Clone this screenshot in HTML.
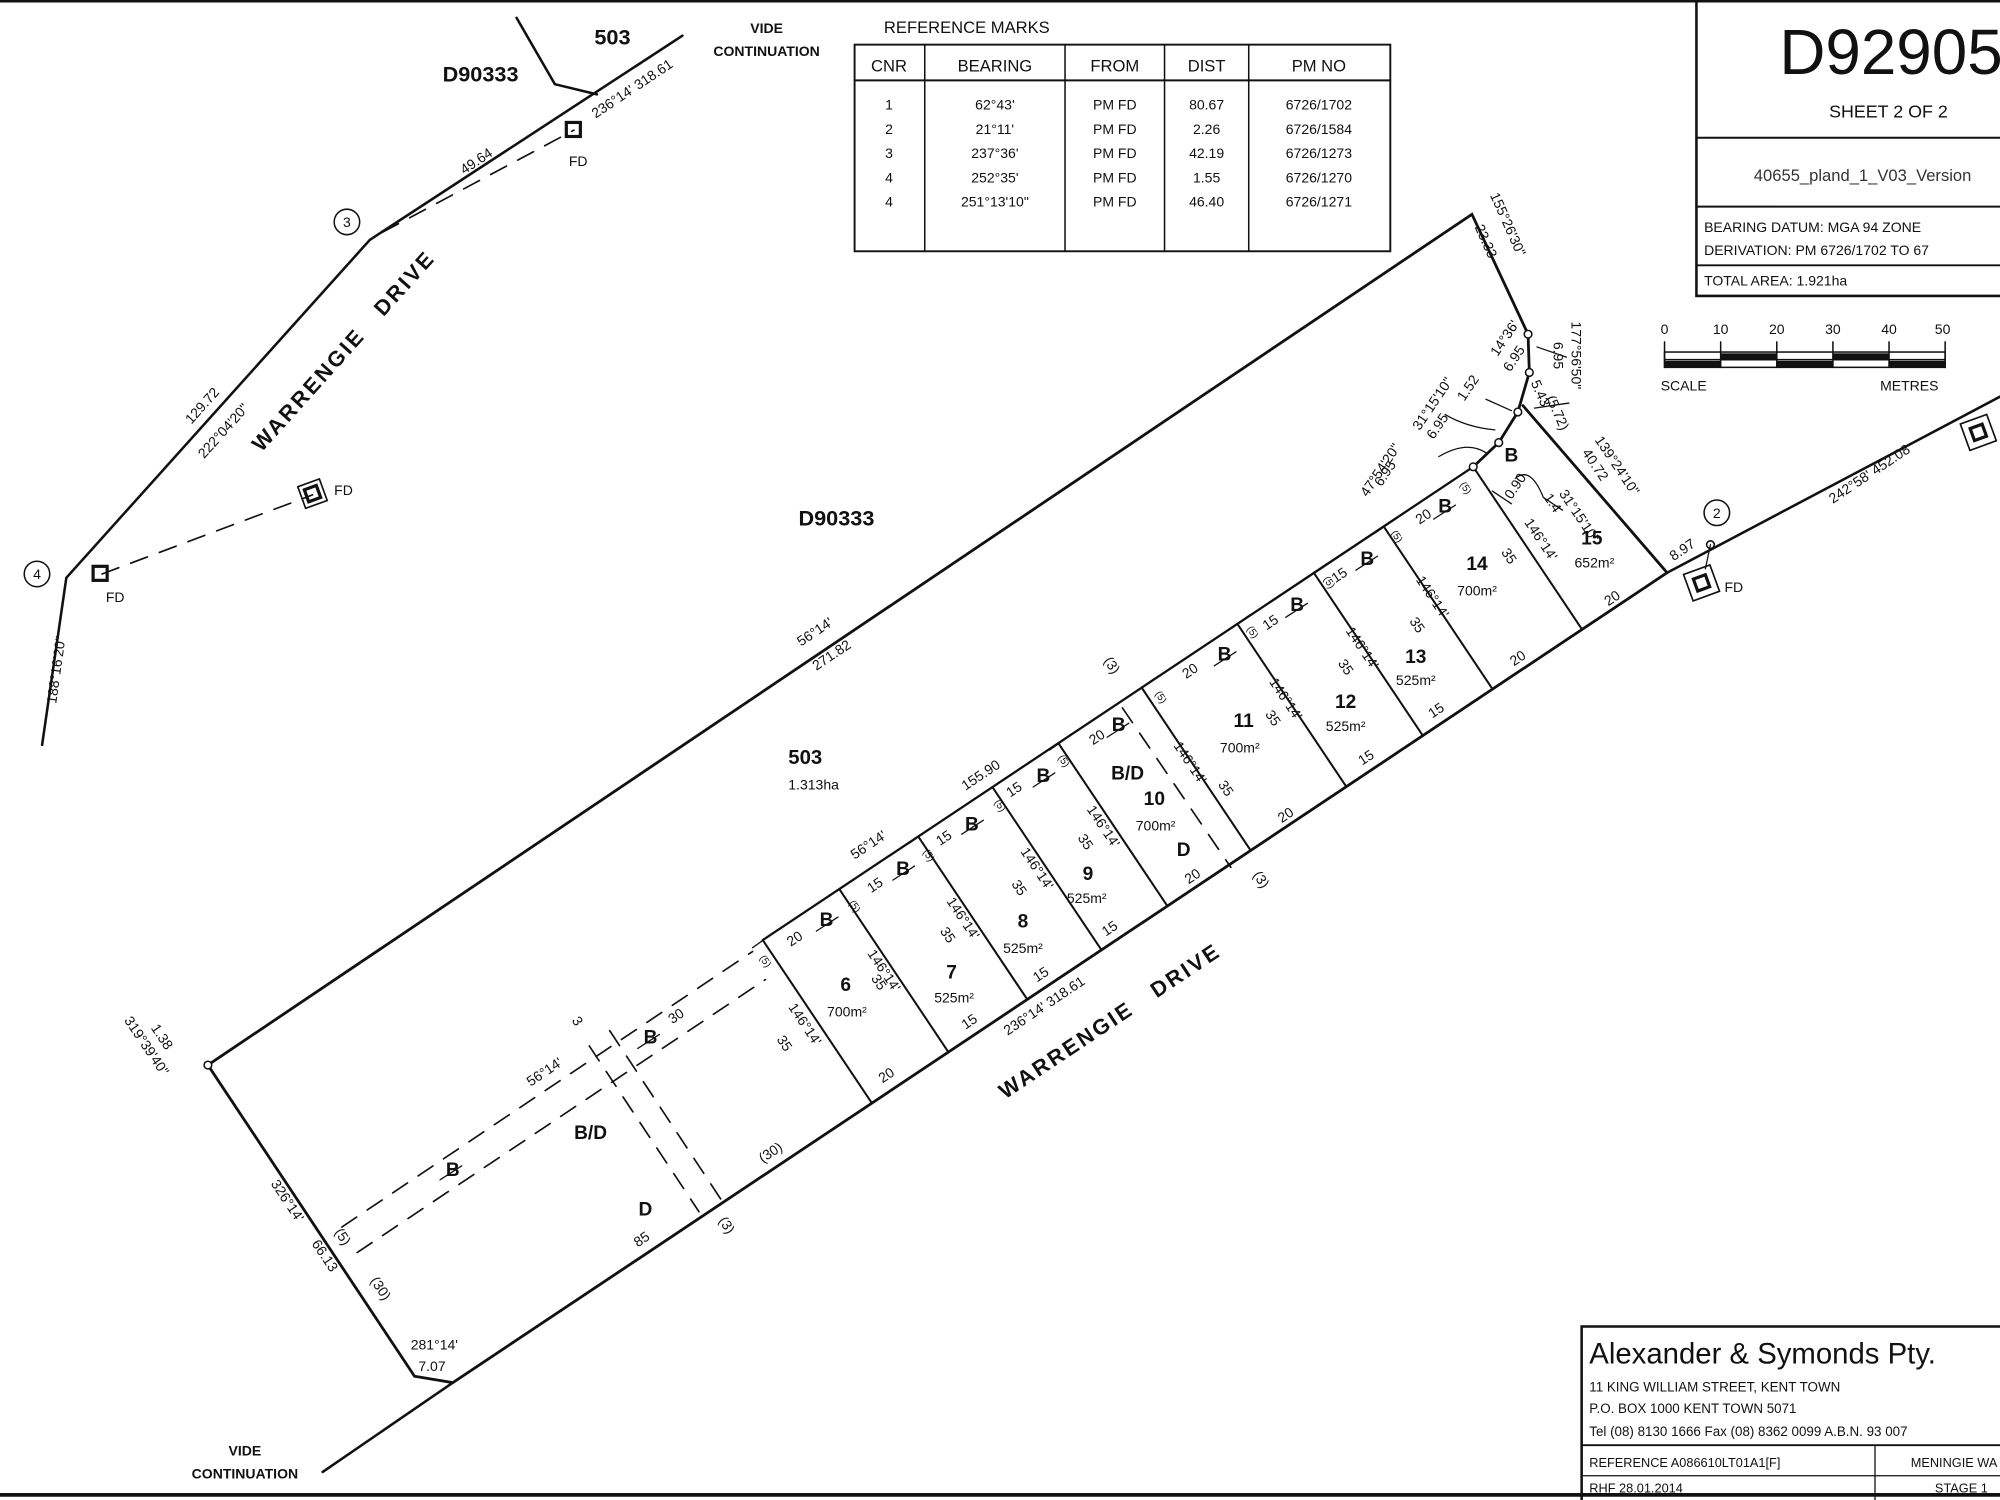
<!DOCTYPE html>
<html><head><meta charset="utf-8">
<style>
html,body{margin:0;padding:0;background:#fff;}
svg{display:block;}
text{font-family:"Liberation Sans",sans-serif;fill:#111;}
.s{font-size:11px;}
.m{font-size:13px;}
.b{font-weight:bold;}
</style></head>
<body>
<svg width="2000" height="1500" viewBox="0 0 1568 1176" preserveAspectRatio="none" xmlns="http://www.w3.org/2000/svg">
<rect width="1568" height="1176" fill="#fff"/>
<g stroke="#111" fill="none" stroke-linecap="round">
<line x1="0" y1="1" x2="1568" y2="1" stroke-width="2"/>
<line x1="0" y1="1172" x2="1568" y2="1172" stroke-width="3"/>
<polyline points="163,835 1154,168 1198,262 1199,292 1190,323 1175,347 1155,366" stroke-width="2.2"/>
<polyline points="163,835 325,1079 355,1084 1307,449 1194,318" stroke-width="2.2"/>
<line x1="1307" y1="449" x2="1568" y2="311" stroke-width="2"/>
<line x1="355" y1="1084" x2="253" y2="1154" stroke-width="2"/>
<polyline points="33,584 52,453 290,188 535,28" stroke-width="2"/>
<polyline points="405,14 435,66 468,74" stroke-width="2"/>
<line x1="598" y1="737" x2="1155" y2="366" stroke-width="1.8"/>
<line x1="598" y1="737" x2="683" y2="864" stroke-width="1.6"/>
<line x1="658" y1="697" x2="743" y2="824" stroke-width="1.6"/>
<line x1="720" y1="656" x2="805" y2="783" stroke-width="1.6"/>
<line x1="778" y1="617" x2="863" y2="744" stroke-width="1.6"/>
<line x1="830" y1="583" x2="915" y2="710" stroke-width="1.6"/>
<line x1="895" y1="539" x2="980" y2="666" stroke-width="1.6"/>
<line x1="970" y1="489" x2="1055" y2="616" stroke-width="1.6"/>
<line x1="1030" y1="449" x2="1115" y2="576" stroke-width="1.6"/>
<line x1="1085" y1="413" x2="1170" y2="540" stroke-width="1.6"/>
<line x1="1155" y1="366" x2="1240" y2="493" stroke-width="1.6"/>
<g stroke-width="1">
<line x1="607" y1="731" x2="590" y2="743"/><line x1="668" y1="690" x2="651" y2="702"/>
<line x1="730" y1="649" x2="713" y2="661"/><line x1="788" y1="610" x2="771" y2="622"/>
<line x1="840" y1="576" x2="823" y2="588"/><line x1="905" y1="532" x2="888" y2="544"/>
<line x1="980" y1="482" x2="963" y2="494"/><line x1="1040" y1="442" x2="1023" y2="454"/>
<line x1="1095" y1="406" x2="1078" y2="418"/>
</g>
<g stroke-width="1.3" stroke-dasharray="14,10">
<line x1="268" y1="962" x2="590" y2="746"/>
<line x1="280" y1="982" x2="600" y2="768"/>
<line x1="462" y1="820" x2="548" y2="950"/>
<line x1="478" y1="808" x2="565" y2="940"/>
<line x1="880" y1="555" x2="965" y2="680"/>
<line x1="80" y1="450" x2="245" y2="388"/>
<line x1="300" y1="182" x2="450" y2="102"/>
</g>
<g stroke-width="1">
<line x1="345" y1="925" x2="362" y2="914"/><line x1="500" y1="822" x2="517" y2="811"/>
<line x1="640" y1="730" x2="657" y2="719"/><line x1="700" y1="690" x2="717" y2="679"/>
<line x1="754" y1="654" x2="771" y2="643"/><line x1="810" y1="617" x2="827" y2="606"/>
<line x1="868" y1="578" x2="885" y2="567"/><line x1="952" y1="522" x2="969" y2="511"/>
<line x1="1008" y1="484" x2="1025" y2="473"/><line x1="1063" y1="447" x2="1080" y2="436"/>
<line x1="1124" y1="407" x2="1141" y2="396"/>
</g>
<g fill="#fff" stroke-width="1.2">
<circle cx="163" cy="835" r="3"/><circle cx="1198" cy="262" r="3"/><circle cx="1199" cy="292" r="3"/>
<circle cx="1190" cy="323" r="3"/><circle cx="1175" cy="347" r="3"/><circle cx="1155" cy="366" r="3"/>
<circle cx="1341" cy="427" r="3"/>
</g>
<g stroke-width="1.2"><circle cx="272" cy="174" r="10"/><circle cx="29" cy="450" r="10"/><circle cx="1346" cy="402" r="10"/></g>
<g stroke-width="2.5">
<rect x="444" y="96" width="11" height="11"/>
<rect x="73" y="444" width="11" height="11"/>
<rect x="236" y="378" width="18" height="18" transform="rotate(-20 245 387)" stroke-width="1.3"/>
<rect x="240" y="382" width="10" height="10" transform="rotate(-20 245 387)"/>
<rect x="1323" y="446" width="22" height="22" transform="rotate(-20 1334 457)" stroke-width="1.3"/>
<rect x="1329" y="452" width="10" height="10" transform="rotate(-20 1334 457)"/>
<rect x="1540" y="328" width="22" height="22" transform="rotate(-20 1551 339)" stroke-width="1.3"/>
<rect x="1546" y="334" width="10" height="10" transform="rotate(-20 1551 339)"/>
<line x1="1341" y1="427" x2="1337" y2="446" stroke-width="1"/>
</g>
<g stroke-width="1">
<path d="M1133,325 Q1150,335 1172,337"/><path d="M1128,358 Q1150,345 1165,355"/>
<path d="M1165,313 L1185,322"/><path d="M1205,272 L1228,280"/><path d="M1230,316 L1203,320"/>
<path d="M1188,375 Q1200,365 1210,390 L1225,400"/><path d="M1170,385 L1185,395"/>
</g>
<rect x="670" y="35" width="420" height="162" stroke-width="1.5"/>
<line x1="670" y1="63" x2="1090" y2="63" stroke-width="1.5"/>
<line x1="725" y1="35" x2="725" y2="197" stroke-width="1.2"/>
<line x1="835" y1="35" x2="835" y2="197" stroke-width="1.2"/>
<line x1="913" y1="35" x2="913" y2="197" stroke-width="1.2"/>
<line x1="979" y1="35" x2="979" y2="197" stroke-width="1.2"/>
<polyline points="1330,0 1330,232 1568,232" stroke-width="2"/>
<line x1="1330" y1="108" x2="1568" y2="108" stroke-width="1.5"/>
<line x1="1330" y1="162" x2="1568" y2="162" stroke-width="1.5"/>
<line x1="1330" y1="208" x2="1568" y2="208" stroke-width="1.5"/>
<g stroke-width="1.2">
<rect x="1305" y="276" width="220" height="12"/>
<line x1="1305" y1="282" x2="1525" y2="282"/>
<line x1="1305" y1="268" x2="1305" y2="288"/><line x1="1349" y1="268" x2="1349" y2="288"/>
<line x1="1393" y1="268" x2="1393" y2="288"/><line x1="1437" y1="268" x2="1437" y2="288"/>
<line x1="1481" y1="268" x2="1481" y2="288"/><line x1="1525" y1="268" x2="1525" y2="288"/>
</g>
<g fill="#111" stroke="none">
<rect x="1305" y="283" width="44" height="5"/><rect x="1349" y="277" width="44" height="5"/>
<rect x="1393" y="283" width="44" height="5"/><rect x="1437" y="277" width="44" height="5"/>
<rect x="1481" y="283" width="44" height="5"/>
</g>
<polyline points="1240,1176 1240,1040 1568,1040" stroke-width="2"/>
<line x1="1240" y1="1133" x2="1568" y2="1133" stroke-width="1.5"/>
<line x1="1240" y1="1157" x2="1568" y2="1157" stroke-width="1"/>
<line x1="1470" y1="1133" x2="1470" y2="1176" stroke-width="1"/>
</g>

<text x="693" y="26" class="m">REFERENCE MARKS</text>
<g class="m" text-anchor="middle">
<text x="697" y="56">CNR</text><text x="780" y="56">BEARING</text><text x="874" y="56">FROM</text><text x="946" y="56">DIST</text><text x="1034" y="56">PM NO</text>
</g>
<g class="s" text-anchor="middle">
<text x="697" y="86">1</text><text x="780" y="86">62°43'</text><text x="874" y="86">PM FD</text><text x="946" y="86">80.67</text><text x="1034" y="86">6726/1702</text>
<text x="697" y="105">2</text><text x="780" y="105">21°11'</text><text x="874" y="105">PM FD</text><text x="946" y="105">2.26</text><text x="1034" y="105">6726/1584</text>
<text x="697" y="124">3</text><text x="780" y="124">237°36'</text><text x="874" y="124">PM FD</text><text x="946" y="124">42.19</text><text x="1034" y="124">6726/1273</text>
<text x="697" y="143">4</text><text x="780" y="143">252°35'</text><text x="874" y="143">PM FD</text><text x="946" y="143">1.55</text><text x="1034" y="143">6726/1270</text>
<text x="697" y="162">4</text><text x="780" y="162">251°13'10"</text><text x="874" y="162">PM FD</text><text x="946" y="162">46.40</text><text x="1034" y="162">6726/1271</text>
</g>
<text x="1395" y="58" style="font-size:50px">D92905</text>
<text x="1434" y="92" style="font-size:14px">SHEET 2 OF 2</text>
<text x="1375" y="142" style="font-size:13px;fill:#333">40655_pland_1_V03_Version</text>
<text x="1336" y="182" class="s">BEARING DATUM:  MGA 94    ZONE</text>
<text x="1336" y="200" class="s">DERIVATION:   PM 6726/1702 TO 67</text>
<text x="1336" y="224" class="s">TOTAL AREA:      1.921ha</text>
<g class="s" text-anchor="middle"><text x="1305" y="262">0</text><text x="1349" y="262">10</text><text x="1393" y="262">20</text><text x="1437" y="262">30</text><text x="1481" y="262">40</text><text x="1523" y="262">50</text></g>
<text x="1302" y="306" class="s">SCALE</text><text x="1474" y="306" class="s">METRES</text>

<text x="1246" y="1069" style="font-size:23px">Alexander &amp; Symonds Pty.</text>
<text x="1246" y="1091" style="font-size:10.5px">11 KING WILLIAM STREET, KENT TOWN</text>
<text x="1246" y="1108" style="font-size:10.5px">P.O. BOX 1000 KENT TOWN 5071</text>
<text x="1246" y="1126" style="font-size:10.5px">Tel (08) 8130 1666   Fax (08) 8362 0099   A.B.N. 93 007</text>
<text x="1246" y="1150" style="font-size:10px">REFERENCE   A086610LT01A1[F]</text>
<text x="1498" y="1150" style="font-size:10px">MENINGIE WA</text>
<text x="1246" y="1170" style="font-size:10px">RHF 28.01.2014</text>
<text x="1517" y="1170" style="font-size:10px">STAGE 1</text>

<text x="466" y="35" class="b" style="font-size:17px">503</text>
<text x="347" y="64" class="b" style="font-size:17px">D90333</text>
<text x="601" y="26" class="s b" text-anchor="middle">VIDE</text>
<text x="601" y="44" class="s b" text-anchor="middle">CONTINUATION</text>
<text x="192" y="1141" class="s b" text-anchor="middle">VIDE</text>
<text x="192" y="1159" class="s b" text-anchor="middle">CONTINUATION</text>
<text x="446" y="130" class="s">FD</text><text x="262" y="388" class="s">FD</text><text x="83" y="472" class="s">FD</text><text x="1352" y="464" class="s">FD</text>
<text x="272" y="178" class="s" text-anchor="middle">3</text><text x="29" y="454" class="s" text-anchor="middle">4</text><text x="1346" y="406" class="s" text-anchor="middle">2</text>

<text x="626" y="412" class="b" style="font-size:17px">D90333</text>
<text x="618" y="599" class="b" style="font-size:16px">503</text>
<text x="618" y="619" class="s">1.313ha</text>

<g class="b" style="font-size:17px;letter-spacing:2px">
<text transform="translate(205,355) rotate(-48)">WARRENGIE&#160;&#160;&#160;DRIVE</text>
<text transform="translate(788,862) rotate(-33.7)">WARRENGIE&#160;&#160;&#160;DRIVE</text>
</g>
<g class="s">
<text transform="translate(150,333) rotate(-48)">129.72</text>
<text transform="translate(160,360) rotate(-48)">222°04'20"</text>
<text transform="translate(364,137) rotate(-33.7)">49.64</text>
<text transform="translate(467,93) rotate(-33.7)">236°14'  318.61</text>
<text transform="translate(44,552) rotate(-82)">188°16'20"</text>
<text transform="translate(628,507) rotate(-33.7)">56°14'</text>
<text transform="translate(640,526) rotate(-33.7)">271.82</text>
<text transform="translate(757,620) rotate(-33.7)">155.90</text>
<text transform="translate(670,674) rotate(-33.7)">56°14'</text>
<text transform="translate(416,852) rotate(-33.7)">56°14'</text>
<text transform="translate(790,812) rotate(-33.7)">236°14'  318.61</text>
<text transform="translate(598,912) rotate(-33.7)">(30)</text>
<text transform="translate(500,978) rotate(-33.7)">85</text>
<text transform="translate(1312,440) rotate(-33.7)">8.97</text>
<text transform="translate(1437,395) rotate(-33.7)">242°58'  452.08</text>
<text transform="translate(97,800) rotate(56)">319°39'40"</text>
<text transform="translate(118,806) rotate(56)">1.38</text>
<text transform="translate(212,928) rotate(56.3)">326°14'</text>
<text transform="translate(244,975) rotate(56.3)">66.13</text>
<text transform="translate(290,1004) rotate(56.3)">(30)</text>
<text transform="translate(262,966) rotate(56.3)">(5)</text>
<text transform="translate(322,1058)">281°14'</text>
<text transform="translate(328,1075)">7.07</text>
<text transform="translate(563,957) rotate(56.3)">(3)</text>
<text transform="translate(865,518) rotate(56.3)">(3)</text>
<text transform="translate(982,686) rotate(56.3)">(3)</text>
<text transform="translate(448,800) rotate(56.3)">3</text>
<text transform="translate(527,803) rotate(-33.7)">30</text>
<text transform="translate(1168,153) rotate(66)">155°26'30"</text>
<text transform="translate(1156,178) rotate(66)">23.33</text>
<text transform="translate(1232,252) rotate(90)">177°56'50"</text>
<text transform="translate(1218,268) rotate(90)">6.95</text>
<text transform="translate(1200,300) rotate(66)">5.43</text>
<text transform="translate(1212,312) rotate(66)">(5.72)</text>
<text transform="translate(1174,280) rotate(-56)">14°36'</text>
<text transform="translate(1184,292) rotate(-56)">6.95</text>
<text transform="translate(1148,315) rotate(-56)">1.52</text>
<text transform="translate(1113,338) rotate(-56)">31°15'10"</text>
<text transform="translate(1124,345) rotate(-56)">6.95</text>
<text transform="translate(1072,390) rotate(-56)">47°54'20"</text>
<text transform="translate(1083,382) rotate(-56)">6.95</text>
<text transform="translate(1185,392) rotate(-56)">0.90</text>
<text transform="translate(1210,390) rotate(56)">1.4</text>
<text transform="translate(1222,387) rotate(56)">31°15'10"</text>
<text transform="translate(1250,345) rotate(56)">139°24'10"</text>
<text transform="translate(1240,355) rotate(56)">40.72</text>
</g>
<g class="b" style="font-size:15px" text-anchor="middle">
<text x="663" y="777">6</text><text x="746" y="767">7</text><text x="802" y="727">8</text><text x="853" y="690">9</text>
<text x="905" y="631">10</text><text x="975" y="570">11</text><text x="1055" y="555">12</text><text x="1110" y="520">13</text>
<text x="1158" y="447">14</text><text x="1248" y="427">15</text>
<text x="355" y="922">B</text><text x="510" y="818">B</text><text x="648" y="726">B</text><text x="708" y="686">B</text>
<text x="762" y="651">B</text><text x="818" y="613">B</text><text x="877" y="573">B</text><text x="960" y="518">B</text>
<text x="1017" y="479">B</text><text x="1072" y="443">B</text><text x="1133" y="402">B</text><text x="1185" y="362">B</text>
<text x="463" y="893">B/D</text><text x="506" y="953">D</text><text x="884" y="611">B/D</text><text x="928" y="671">D</text>
</g>
<g class="s" text-anchor="middle">
<text x="664" y="797">700m²</text><text x="748" y="786">525m²</text><text x="802" y="747">525m²</text><text x="852" y="708">525m²</text>
<text x="906" y="651">700m²</text><text x="972" y="590">700m²</text><text x="1055" y="573">525m²</text><text x="1110" y="537">525m²</text>
<text x="1158" y="467">700m²</text><text x="1250" y="445">652m²</text>
</g>
<g class="s" text-anchor="middle">
<text transform="translate(697,846) rotate(-33.7)">20</text><text transform="translate(762,804) rotate(-33.7)">15</text>
<text transform="translate(818,767) rotate(-33.7)">15</text><text transform="translate(872,731) rotate(-33.7)">15</text>
<text transform="translate(937,690) rotate(-33.7)">20</text><text transform="translate(1010,642) rotate(-33.7)">20</text>
<text transform="translate(1073,597) rotate(-33.7)">15</text><text transform="translate(1128,560) rotate(-33.7)">15</text>
<text transform="translate(1192,519) rotate(-33.7)">20</text><text transform="translate(1266,472) rotate(-33.7)">20</text>
<text transform="translate(625,739) rotate(-33.7)">20</text><text transform="translate(688,697) rotate(-33.7)">15</text>
<text transform="translate(742,660) rotate(-33.7)">15</text><text transform="translate(797,622) rotate(-33.7)">15</text>
<text transform="translate(862,581) rotate(-33.7)">20</text><text transform="translate(935,529) rotate(-33.7)">20</text>
<text transform="translate(998,491) rotate(-33.7)">15</text><text transform="translate(1052,454) rotate(-33.7)">15</text>
<text transform="translate(1118,408) rotate(-33.7)">20</text>
</g>
<g class="s" text-anchor="middle">
<text transform="translate(628,805) rotate(56.3)">146°14'</text><text transform="translate(612,820) rotate(56.3)">35</text>
<text transform="translate(690,763) rotate(56.3)">146°14'</text><text transform="translate(686,772) rotate(56.3)">35</text>
<text transform="translate(752,722) rotate(56.3)">146°14'</text><text transform="translate(740,735) rotate(56.3)">35</text>
<text transform="translate(810,683) rotate(56.3)">146°14'</text><text transform="translate(796,698) rotate(56.3)">35</text>
<text transform="translate(862,650) rotate(56.3)">146°14'</text><text transform="translate(848,662) rotate(56.3)">35</text>
<text transform="translate(930,600) rotate(56.3)">146°14'</text><text transform="translate(958,620) rotate(56.3)">35</text>
<text transform="translate(1005,550) rotate(56.3)">146°14'</text><text transform="translate(995,565) rotate(56.3)">35</text>
<text transform="translate(1065,510) rotate(56.3)">146°14'</text><text transform="translate(1052,525) rotate(56.3)">35</text>
<text transform="translate(1120,470) rotate(56.3)">146°14'</text><text transform="translate(1108,492) rotate(56.3)">35</text>
<text transform="translate(1205,425) rotate(56.3)">146°14'</text><text transform="translate(1180,438) rotate(56.3)">35</text>
</g>
<g style="font-size:8px" text-anchor="middle">
<text transform="translate(598,755) rotate(56.3)">(5)</text><text transform="translate(668,712) rotate(56.3)">(5)</text>
<text transform="translate(726,672) rotate(56.3)">(5)</text><text transform="translate(782,633) rotate(56.3)">(5)</text>
<text transform="translate(832,598) rotate(56.3)">(5)</text><text transform="translate(908,548) rotate(56.3)">(5)</text>
<text transform="translate(980,497) rotate(56.3)">(5)</text><text transform="translate(1040,458) rotate(56.3)">(5)</text>
<text transform="translate(1093,422) rotate(56.3)">(5)</text><text transform="translate(1147,384) rotate(56.3)">(5)</text>
</g>
</svg>
</body></html>
